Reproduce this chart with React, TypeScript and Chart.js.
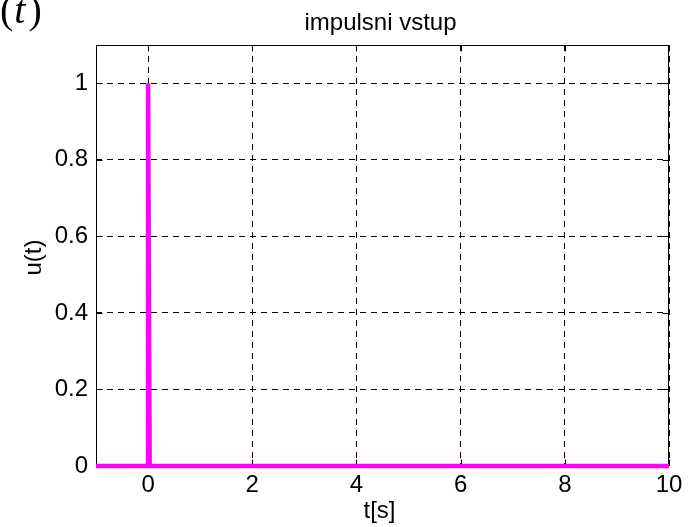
import React, { useEffect, useRef } from "react";
import { Chart, registerables } from "chart.js";

Chart.register(...registerables);

// Unit impulse input signal u(t)
const timeSec = [-1, 0, 0, 0.03, 10];
const inputU = [0, 0, 1, 0, 0];

const xTicks = [0, 2, 4, 6, 8, 10];
const xTickLabels = ["0", "2", "4", "6", "8", "10"];
const yTicks = [0, 0.2, 0.4, 0.6, 0.8, 1];
const yTickLabels = ["0", "0.2", "0.4", "0.6", "0.8", "1"];

const chartTitle = "impulsni vstup";
const xTitle = "t[s]";
const yTitle = "u(t)";

const SANS = '"Liberation Sans", Arial, Helvetica, sans-serif';
const SERIF = '"Liberation Serif", "Times New Roman", serif';
const FONT_SIZE = 24;

const W = 691;
const H = 527;

// Solid axes box with inward tick marks on all four sides
const framePlugin = {
  id: "frame",
  beforeDatasetsDraw(chart: any) {
    const { ctx, chartArea: a, scales } = chart;
    const L = Math.round(a.left) + 0.5;
    const R = Math.round(a.right) - 0.5;
    const T = Math.round(a.top) + 0.5;
    const B = Math.round(a.bottom) - 0.5;
    const tl = 6;
    ctx.save();
    ctx.strokeStyle = "#000";
    ctx.lineWidth = 1;
    ctx.setLineDash([]);
    ctx.beginPath();
    xTicks.forEach((v) => {
      const x = Math.round(scales.x.getPixelForValue(v)) + 0.5;
      ctx.moveTo(x, B);
      ctx.lineTo(x, B - tl);
      ctx.moveTo(x, T);
      ctx.lineTo(x, T + tl);
    });
    yTicks.forEach((v) => {
      const y = Math.round(scales.y.getPixelForValue(v)) + 0.5;
      ctx.moveTo(L, y);
      ctx.lineTo(L + tl, y);
      ctx.moveTo(R, y);
      ctx.lineTo(R - tl, y);
    });
    ctx.stroke();
    ctx.strokeRect(L, T, R - L, B - T);
    ctx.restore();
  },
};

// Title, axis titles and the "(t)" fragment at the top-left corner
const textPlugin = {
  id: "texts",
  afterDraw(chart: any) {
    const { ctx, chartArea: a } = chart;
    const cx = (a.left + a.right) / 2;
    ctx.save();
    ctx.fillStyle = "#000";
    ctx.textAlign = "center";
    ctx.textBaseline = "alphabetic";
    ctx.font = `${FONT_SIZE}px ${SANS}`;
    ctx.fillText(chartTitle, cx - 2, 30);
    ctx.fillText(xTitle, cx - 3, 518);
    ctx.translate(41, (a.top + a.bottom) / 2 + 2);
    ctx.rotate(-Math.PI / 2);
    ctx.fillText(yTitle, 0, 0);
    ctx.restore();

    ctx.save();
    ctx.fillStyle = "#000";
    ctx.textAlign = "left";
    ctx.textBaseline = "alphabetic";
    let x = 0;
    const base = 23;
    ctx.font = `40px ${SERIF}`;
    ctx.fillText("(", x, base);
    x += ctx.measureText("(").width + 1;
    ctx.font = `italic 40px ${SERIF}`;
    ctx.fillText("t", x, base);
    x += ctx.measureText("t").width + 3;
    ctx.font = `40px ${SERIF}`;
    ctx.fillText(")", x, base);
    ctx.restore();
  },
};

export default function App() {
  const ref = useRef<HTMLCanvasElement | null>(null);

  useEffect(() => {
    if (!ref.current) return;
    const chart = new Chart(ref.current, {
      type: "line",
      data: {
        datasets: [
          {
            data: timeSec.map((t, i) => ({ x: t, y: inputU[i] })),
            borderColor: "#ff00ff",
            backgroundColor: "#ff00ff",
            borderWidth: 4.5,
            pointRadius: 0,
            tension: 0,
            borderJoinStyle: "miter",
            borderCapStyle: "butt",
            fill: false,
            clip: false,
          },
        ],
      },
      options: {
        animation: false,
        responsive: false,
        devicePixelRatio: 1,
        events: [],
        layout: { padding: { left: 0, right: 22, top: 45, bottom: 0 } },
        plugins: {
          legend: { display: false },
          tooltip: { enabled: false },
          title: { display: false },
        },
        scales: {
          x: {
            type: "linear",
            min: -1,
            max: 10,
            afterBuildTicks(scale: any) {
              scale.ticks = xTicks.map((v) => ({ value: v }));
            },
            afterFit(scale: any) {
              scale.height = H - 466;
            },
            ticks: {
              padding: 5,
              color: "#000",
              font: { family: SANS, size: FONT_SIZE },
              maxRotation: 0,
              autoSkip: false,
              callback: (v: any) => {
                const i = xTicks.indexOf(Number(v));
                return i >= 0 ? xTickLabels[i] : "";
              },
            },
            grid: { color: "#000", lineWidth: 1, drawTicks: false },
            border: { display: false, dash: [6, 5] },
          },
          y: {
            type: "linear",
            min: 0,
            max: 1.1,
            afterBuildTicks(scale: any) {
              scale.ticks = yTicks.map((v) => ({ value: v }));
            },
            afterFit(scale: any) {
              scale.width = 96;
            },
            ticks: {
              padding: 8,
              color: "#000",
              font: { family: SANS, size: FONT_SIZE },
              autoSkip: false,
              callback: (v: any) => {
                const i = yTicks.findIndex((t) => Math.abs(t - Number(v)) < 1e-9);
                return i >= 0 ? yTickLabels[i] : "";
              },
            },
            grid: { color: "#000", lineWidth: 1, drawTicks: false },
            border: { display: false, dash: [6, 5] },
          },
        },
      } as any,
      plugins: [framePlugin, textPlugin],
    });
    return () => chart.destroy();
  }, []);

  return (
    <div style={{ position: "fixed", left: 0, top: 0, width: W, height: H, background: "#fff" }}>
      <canvas ref={ref} width={W} height={H} style={{ display: "block", width: W, height: H }} />
    </div>
  );
}
